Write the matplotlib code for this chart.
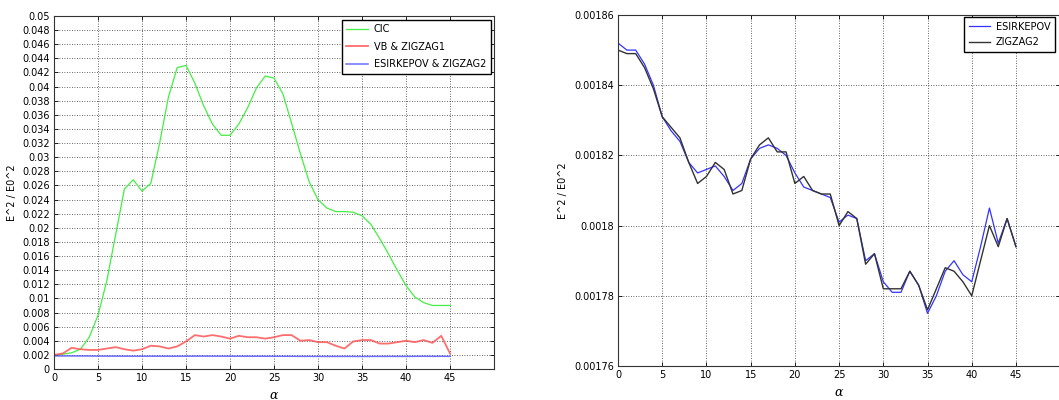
import numpy as np
import matplotlib
matplotlib.use("Agg")
import matplotlib.pyplot as plt

plt.rcParams["font.family"] = ["DejaVu Sans"]
plt.rcParams["mathtext.fontset"] = "dejavuserif"

# 数据
alpha = np.arange(0, 46)

cic = [0.0020, 0.0021, 0.0023, 0.0028, 0.0045, 0.0076, 0.0125, 0.0190, 0.0255, 0.0268,
       0.0252, 0.0263, 0.0320, 0.0385, 0.0427, 0.0430, 0.0405, 0.0373, 0.0347, 0.0331,
       0.0331, 0.0347, 0.0370, 0.0398, 0.0415, 0.0412, 0.0390, 0.0348, 0.0305, 0.0265,
       0.0240, 0.0228, 0.0223, 0.0223, 0.0222, 0.0217, 0.0205, 0.0185, 0.0163, 0.0140,
       0.0118, 0.0102, 0.0094, 0.0090, 0.0090, 0.0090]

vb_zigzag1 = [0.0020, 0.0022, 0.0030, 0.0028, 0.0027, 0.0027, 0.0029, 0.0031, 0.0028, 0.0026,
              0.0028, 0.0033, 0.0032, 0.0029, 0.0032, 0.0039, 0.0048, 0.0046, 0.0048, 0.0046,
              0.0043, 0.0047, 0.0045, 0.0045, 0.0043, 0.0045, 0.0048, 0.0048, 0.0040, 0.0041,
              0.0038, 0.0038, 0.0033, 0.0029, 0.0039, 0.0041, 0.0041, 0.0036, 0.0036, 0.0038,
              0.0040, 0.0038, 0.0041, 0.0037, 0.0047, 0.0022]

esirkepov = [0.001852, 0.001850, 0.001850, 0.001846, 0.001840, 0.001831, 0.001827, 0.001824,
             0.001818, 0.001815, 0.001816, 0.001817, 0.001814, 0.001810, 0.001812, 0.001819,
             0.001822, 0.001823, 0.001822, 0.001820, 0.001815, 0.001811, 0.001810, 0.001809,
             0.001808, 0.001801, 0.001803, 0.001802, 0.001790, 0.001792, 0.001784, 0.001781,
             0.001781, 0.001787, 0.001783, 0.001775, 0.001780, 0.001787, 0.001790, 0.001786,
             0.001784, 0.001794, 0.001805, 0.001795, 0.001802, 0.001794]

zigzag2 = [0.001850, 0.001849, 0.001849, 0.001845, 0.001839, 0.001831, 0.001828, 0.001825,
           0.001818, 0.001812, 0.001814, 0.001818, 0.001816, 0.001809, 0.001810, 0.001819,
           0.001823, 0.001825, 0.001821, 0.001821, 0.001812, 0.001814, 0.001810, 0.001809,
           0.001809, 0.001800, 0.001804, 0.001802, 0.001789, 0.001792, 0.001782, 0.001782,
           0.001782, 0.001787, 0.001783, 0.001776, 0.001782, 0.001788, 0.001787, 0.001784,
           0.001780, 0.001790, 0.001800, 0.001794, 0.001802, 0.001794]

xticks = list(range(0, 46, 5))
left_yticks = np.round(np.arange(0, 0.0501, 0.002), 3)
right_yticks = [0.00176, 0.00178, 0.0018, 0.00182, 0.00184, 0.00186]

fig = plt.figure(figsize=(10.59, 4.0), dpi=100)
ax1 = fig.add_axes([0.051, 0.0775, 0.4155, 0.8825])
ax2 = fig.add_axes([0.5836, 0.085, 0.4175, 0.8775])


def style_axes(ax):
    ax.set_xlim(0, 50)
    ax.set_xticks(xticks)
    ax.grid(True, linestyle=(0, (1, 2)), color="black", linewidth=0.6, alpha=0.8)
    ax.tick_params(direction="in", top=True, right=True, labelsize=7, length=3,
                   width=0.6, pad=3)
    for s in ax.spines.values():
        s.set_color("#333333")
        s.set_linewidth(0.8)
    ax.set_xlabel(r"$\alpha$", fontsize=9, labelpad=4)
    ax.set_ylabel("E^2 / E0^2", fontsize=7, labelpad=4)


# 左图
ax1.plot(alpha, cic, color="#44ee44", linewidth=0.9, label="CIC")
ax1.plot(alpha, vb_zigzag1, color="#ff5555", linewidth=1.3, alpha=0.85, label="VB & ZIGZAG1")
ax1.plot(alpha, esirkepov, color="#5555ff", linewidth=1.1, alpha=0.85, label="ESIRKEPOV & ZIGZAG2")
style_axes(ax1)
ax1.set_ylim(0, 0.05)
ax1.set_yticks(left_yticks)
ax1.set_yticklabels([f"{v:g}" for v in left_yticks])
ax1.legend(loc="upper right", bbox_to_anchor=(0.993, 0.99), fontsize=7, frameon=True,
           fancybox=False, edgecolor="black", framealpha=1, handlelength=2.2,
           handletextpad=0.6, borderaxespad=0.0, labelspacing=0.75, borderpad=0.5)

# 右图
ax2.plot(alpha, esirkepov, color="#3333ff", linewidth=0.9, label="ESIRKEPOV")
ax2.plot(alpha, zigzag2, color="#333333", linewidth=1.0, label="ZIGZAG2")
style_axes(ax2)
ax2.set_ylim(0.00176, 0.00186)
ax2.set_yticks(right_yticks)
ax2.set_yticklabels([f"{v:g}" for v in right_yticks])
ax2.legend(loc="upper left", bbox_to_anchor=(0.782, 0.995), fontsize=7, frameon=True,
           fancybox=False, edgecolor="black", framealpha=1, handlelength=2.2,
           handletextpad=0.6, borderaxespad=0.0, labelspacing=0.6, borderpad=0.5)

fig.savefig("out.png", dpi=100)
plt.close(fig)
